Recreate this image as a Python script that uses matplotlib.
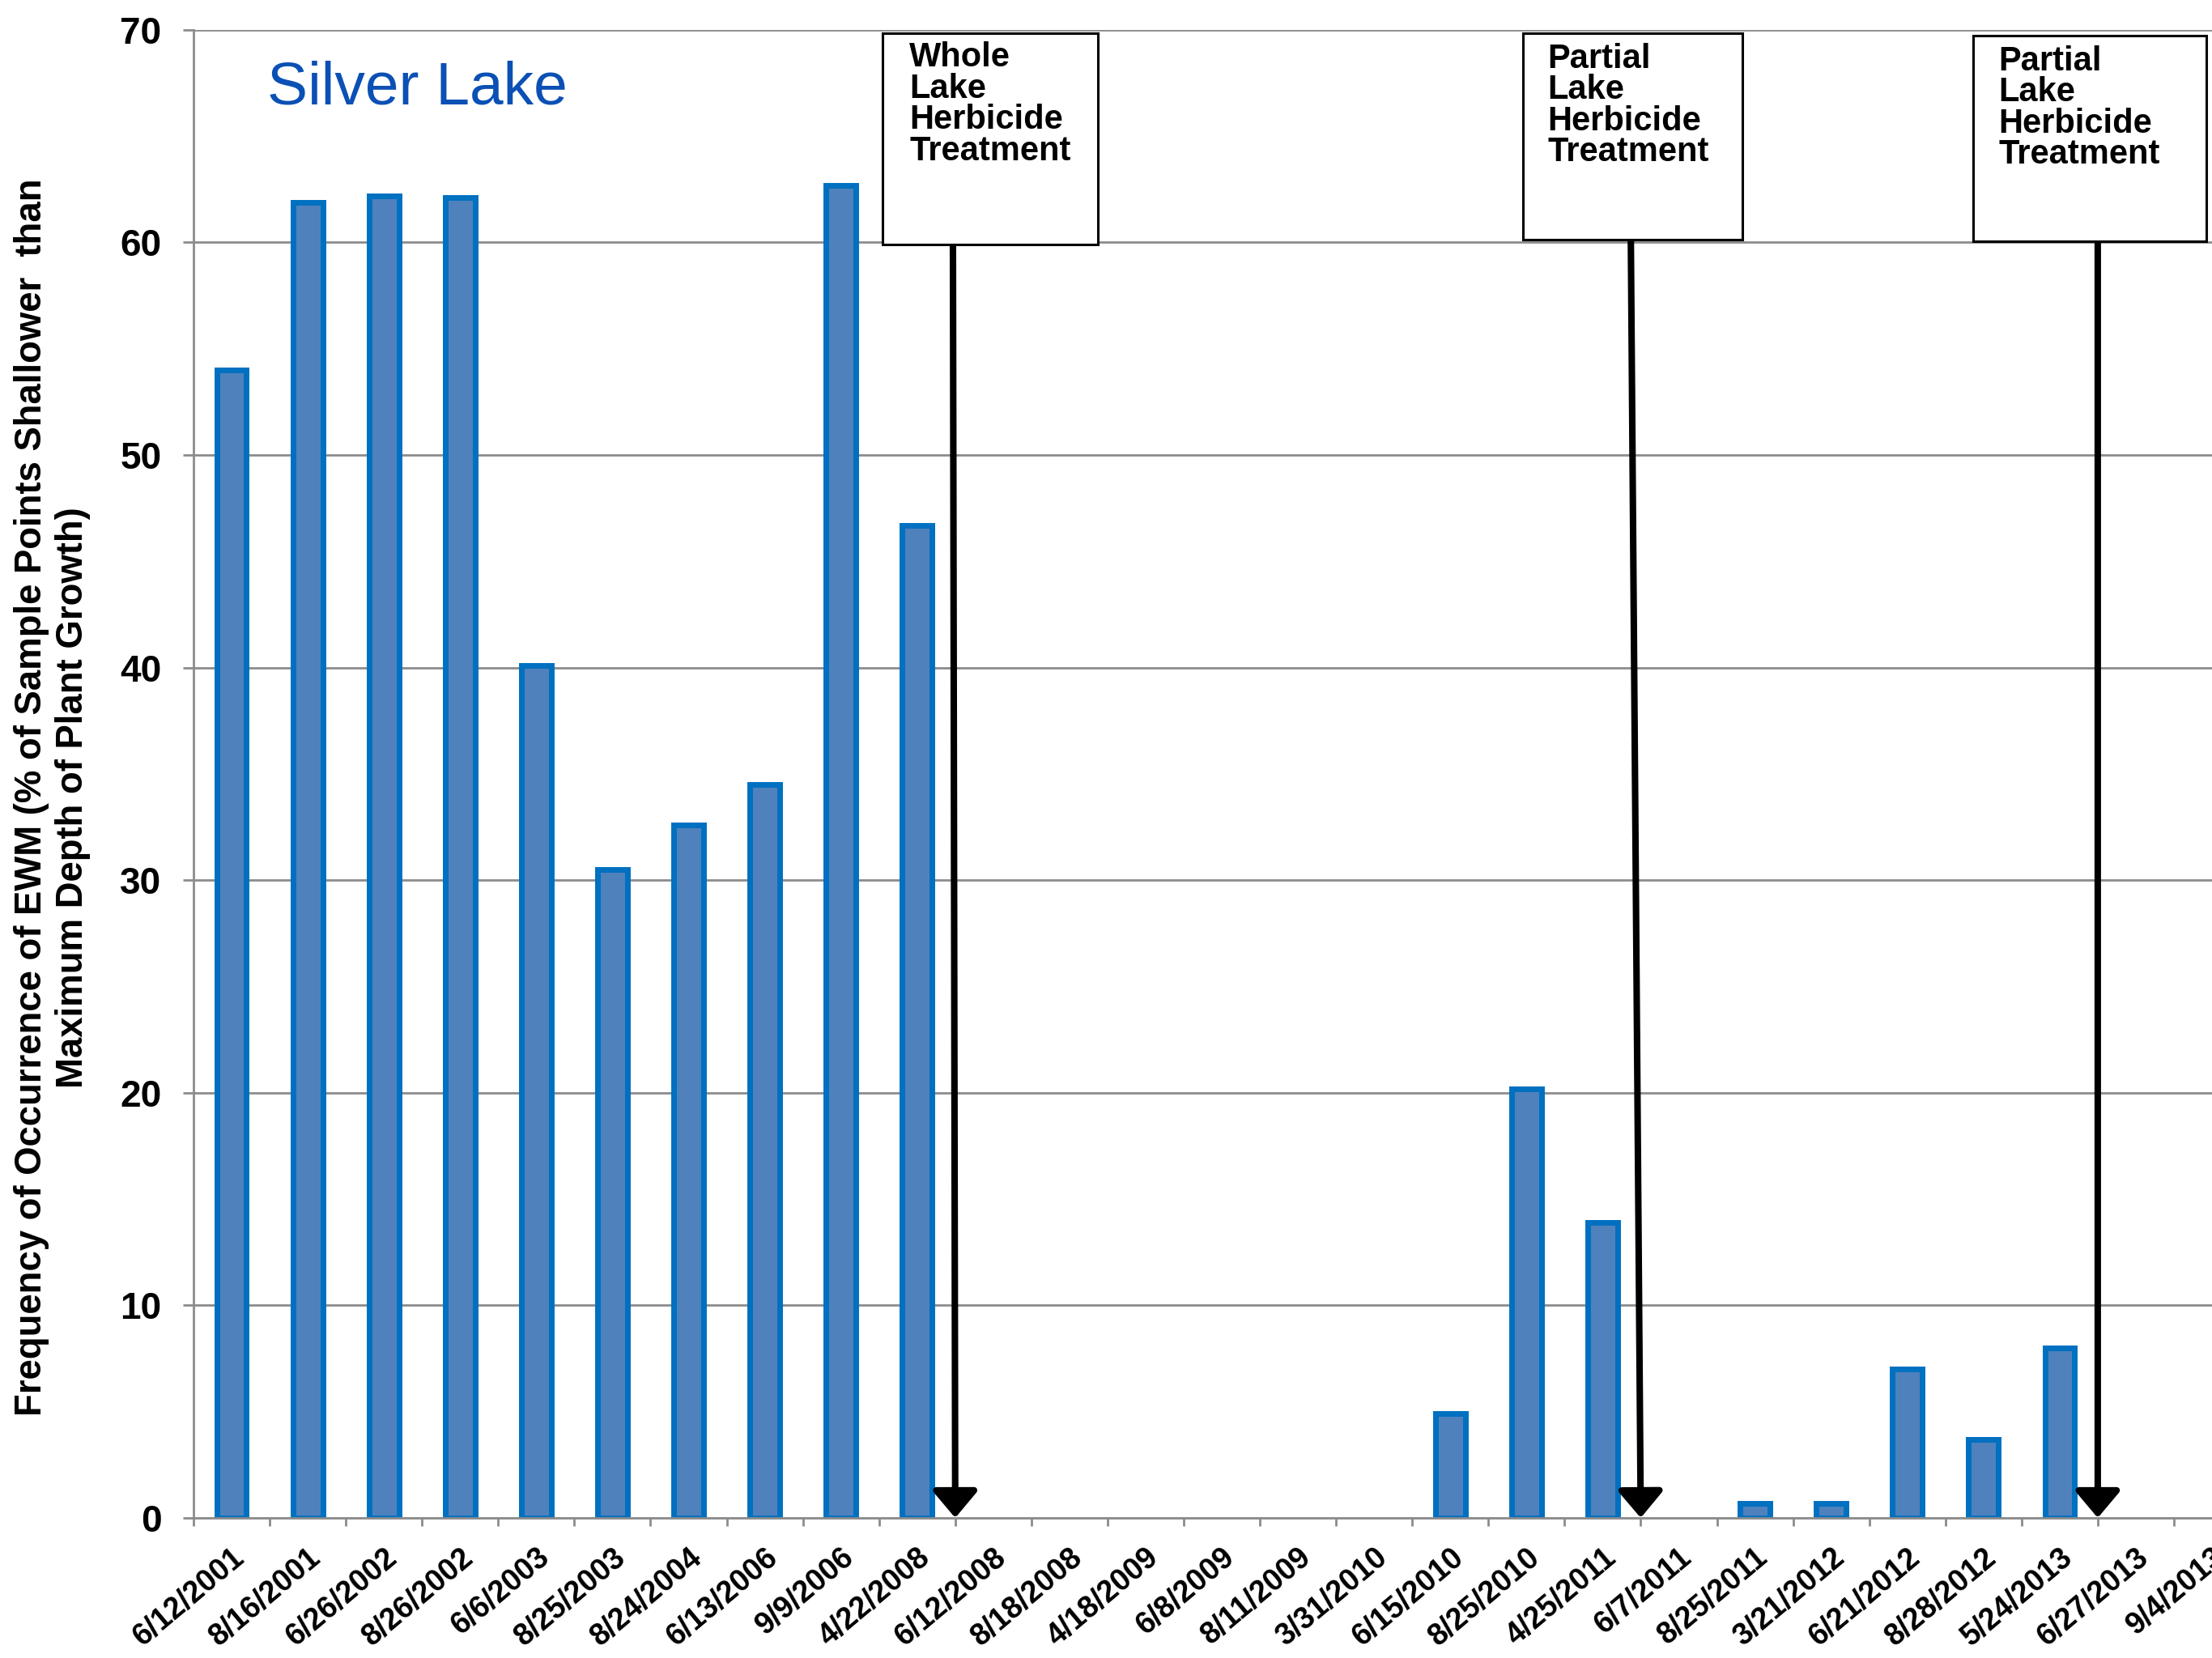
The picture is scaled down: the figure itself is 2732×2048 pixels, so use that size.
import numpy as np
import matplotlib
matplotlib.use("Agg")
import matplotlib.pyplot as plt
from matplotlib.patches import Rectangle

plt.rcParams["font.family"] = ["Liberation Sans", "DejaVu Sans"]

# sampling dates and EWM frequency of occurrence (None = no value plotted)
dates = [
    "6/12/2001", "8/16/2001", "6/26/2002", "8/26/2002", "6/6/2003",
    "8/25/2003", "8/24/2004", "6/13/2006", "9/9/2006", "4/22/2008",
    "6/12/2008", "8/18/2008", "4/18/2009", "6/8/2009", "8/11/2009",
    "3/31/2010", "6/15/2010", "8/25/2010", "4/25/2011", "6/7/2011",
    "8/25/2011", "3/21/2012", "6/21/2012", "8/28/2012", "5/24/2013",
    "6/27/2013", "9/4/2013",
]
ewm_freq = [
    54.0, 61.9, 62.2, 62.1, 40.1,
    30.5, 32.6, 34.5, 62.7, 46.7,
    None, None, None, None, None,
    None, 4.9, 20.2, 13.9, None,
    0.7, 0.7, 7.0, 3.7, 8.0,
    None, None,
]

treatments = [
    "Whole\nLake\nHerbicide\nTreatment",
    "Partial\nLake\nHerbicide\nTreatment",
    "Partial\nLake\nHerbicide\nTreatment",
]

x = np.arange(len(dates))
vals = np.array([np.nan if v is None else v for v in ewm_freq])
has = ~np.isnan(vals)

fig = plt.figure(figsize=(13.66, 10.24), dpi=200)
ax = fig.add_axes([0.0875, 0.0845, 0.9125, 0.8975])

ax.bar(x[has], vals[has], width=0.39, color="#4F81BD", edgecolor="#0070C0",
       linewidth=2.5, zorder=2)

ax.set_xlim(-0.5, 26.0)
ax.set_ylim(0, 70)
ax.set_yticks(np.arange(0, 71, 10))
ax.grid(axis="y", color="#8C8C8C", linewidth=1.0)
ax.set_axisbelow(True)

for s in ("top", "right"):
    ax.spines[s].set_visible(False)
for s in ("left", "bottom"):
    ax.spines[s].set_color("#8C8C8C")
    ax.spines[s].set_linewidth(1.0)

# major ticks between dates, labels on minor ticks at bar centres
ax.set_xticks(np.arange(-0.5, 26.0, 1.0))
ax.set_xticklabels([])
ax.set_xticks(x, minor=True)
ax.set_xticklabels(dates, minor=True, rotation=40, ha="right",
                   rotation_mode="anchor", fontsize=13.5, fontweight="bold")
ax.tick_params(axis="x", which="major", direction="out", length=3.6,
               width=1.0, color="#8C8C8C")
ax.tick_params(axis="x", which="minor", length=0, pad=11)
ax.tick_params(axis="y", direction="out", length=4.7, width=1.0,
               color="#8C8C8C", pad=9.5, labelsize=16.5)
for lab in ax.get_yticklabels():
    lab.set_fontweight("bold")

fig.text(0.0235, 0.519,
         "Frequency of Occurrence of EWM (% of Sample Points Shallower  than\n"
         "Maximum Depth of Plant Growth)",
         rotation=90, ha="center", va="center", multialignment="center",
         fontsize=16.4, fontweight="bold", linespacing=1.2)

ax.text(0.47, 66.5, "Silver Lake", fontsize=27, color="#0B50B4",
        ha="left", va="baseline")

# treatment call-outs: box (x0, x1, y0, y1), text anchor, arrow top/bottom
boxes = [(8.55, 11.37, 59.89, 69.83), (16.95, 19.83, 60.15, 69.83),
         (22.86, 25.93, 60.04, 69.71)]
text_pos = [(8.90, 69.45), (17.28, 69.4), (23.20, 69.28)]
arrow_x = [(9.47, 9.5), (18.37, 18.5), (24.5, 24.5)]

for label, (x0, x1, y0, y1), (tx, ty), (ax_top, ax_bot) in zip(
        treatments, boxes, text_pos, arrow_x):
    ax.add_patch(Rectangle((x0, y0), x1 - x0, y1 - y0, facecolor="white",
                           edgecolor="black", linewidth=1.1, zorder=4))
    ax.text(tx, ty, label, ha="left", va="top", fontsize=15,
            fontweight="bold", linespacing=0.95, zorder=5)
    ax.annotate("", xy=(ax_bot, 0), xytext=(ax_top, y0),
                arrowprops=dict(arrowstyle="-|>,head_length=0.5,head_width=0.42",
                                color="black", lw=2.9, mutation_scale=20,
                                shrinkA=0, shrinkB=0),
                zorder=3)

fig.savefig("out.png", dpi=200)
